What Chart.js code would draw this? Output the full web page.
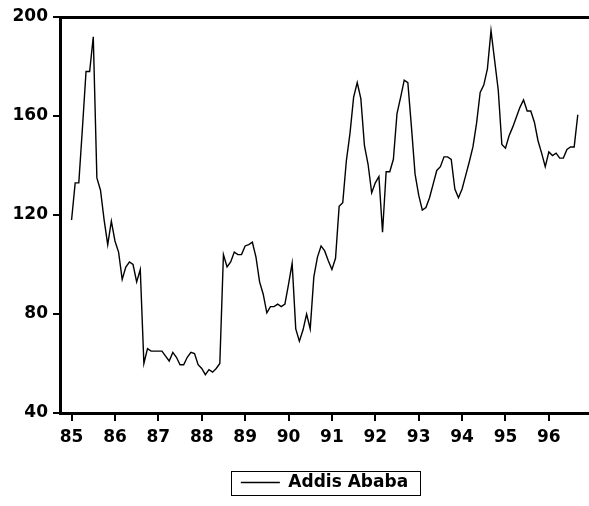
<!DOCTYPE html>
<html>
<head>
<meta charset="utf-8">
<script src="https://cdn.jsdelivr.net/npm/chart.js@4/dist/chart.umd.min.js"></script>
<style>
  html, body { margin: 0; padding: 0; background: #fff; }
  #wrap { width: 589px; height: 506px; }
</style>
</head>
<body>
<div id="wrap"><canvas id="chart" width="589" height="506"></canvas></div>
<script>
// monthly series, 1985M01 .. 1996M09
const seriesName = "Addis Ababa";
const yearLabels = ["85", "86", "87", "88", "89", "90", "91", "92", "93", "94", "95", "96"];
const prices = [
  118, 133, 133, 155, 178, 178, 192, 135, 130, 118, 108, 117.5,
  109.5, 105, 94, 99, 101, 100, 93, 98, 60, 66, 65, 65,
  65, 65, 63, 61, 64.5, 62.5, 59.5, 59.5, 62.5, 64.5, 64, 59.5,
  58, 55.5, 57.5, 56.5, 58, 60, 104, 99, 101, 105, 104, 104,
  107.5, 108, 109, 103, 93, 88, 80.5, 83, 83, 84, 83, 84,
  92, 100.5, 74, 69, 73.5, 80, 74, 95, 103, 107.5, 105.5, 101.5,
  98, 102.5, 123.5, 125, 142, 153, 167.5, 173.5, 167, 148, 140.5, 129,
  133, 135.5, 113, 137.5, 137.5, 142.5, 161, 167.5, 174.5, 173.5, 155.5, 136.5,
  128, 122, 123, 127, 132.5, 138, 139.5, 143.5, 143.5, 142.5, 130.5, 127,
  130.5, 136, 141.5, 147.5, 157, 169.5, 172.5, 179, 194.5, 182.5, 170.5, 148.5,
  147, 152, 155.5, 159.5, 163.5, 166.5, 162, 162, 157.5, 150, 145, 139.5,
  145.5, 144, 145, 143, 143, 146.5, 147.5, 147.5, 160.5
];
const yMin = 40, yMax = 200, yStep = 40;

const yearTicks = yearLabels.map((_, i) => i * 12);
const points = prices.map((v, i) => ({ x: i, y: v }));
const xMin = -3.2, xMax = 143.1;

const FONT = { family: "'DejaVu Sans', sans-serif", size: 17, weight: "bold" };

// EViews style frame round the legend
const legendFrame = {
  id: "legendFrame",
  afterDraw(chart) {
    const boxes = chart.legend && chart.legend.legendHitBoxes;
    if (!boxes || !boxes.length) return;
    const b = boxes[0];
    const ctx = chart.ctx;
    const cy = b.top + b.height / 2;
    ctx.save();
    ctx.strokeStyle = "#000";
    ctx.lineWidth = 1;
    ctx.strokeRect(Math.round(b.left - 10) + 0.5, Math.round(cy - 12) + 0.5, Math.round(b.width + 22), 24);
    ctx.restore();
  }
};

const ctx = document.getElementById("chart").getContext("2d");
new Chart(ctx, {
  type: "line",
  data: {
    datasets: [{
      label: seriesName,
      data: points,
      borderColor: "#000",
      backgroundColor: "#000",
      borderWidth: 1.4,
      pointRadius: 0,
      pointStyle: "line",
      tension: 0,
      fill: false
    }]
  },
  options: {
    responsive: false,
    animation: false,
    layout: { padding: { top: 17, left: 0, right: 0, bottom: 5 } },
    plugins: {
      tooltip: { enabled: false },
      legend: {
        position: "bottom",
        fullSize: false,
        labels: {
          color: "#000",
          font: FONT,
          padding: 5,
          usePointStyle: true,
          pointStyle: "line",
          pointStyleWidth: 39
        }
      }
    },
    scales: {
      x: {
        type: "linear",
        min: xMin,
        max: xMax,
        afterBuildTicks: (scale) => { scale.ticks = yearTicks.map(v => ({ value: v })); },
        afterFit: (scale) => { scale.height = 56; },
        ticks: {
          color: "#000",
          font: FONT,
          padding: 6,
          autoSkip: false,
          maxRotation: 0,
          callback: (v, i) => yearLabels[i]
        },
        grid: { drawOnChartArea: false, tickLength: 8, color: "#000", lineWidth: 2 },
        border: { color: "#000", width: 3 }
      },
      xTop: {
        type: "linear",
        position: "top",
        min: xMin,
        max: xMax,
        ticks: { display: false },
        grid: { display: false, drawTicks: false },
        border: { display: true, color: "#000", width: 3 }
      },
      y: {
        min: yMin,
        max: yMax,
        afterFit: (scale) => { scale.width = 60; },
        ticks: { stepSize: yStep, color: "#000", font: FONT, padding: 5 },
        grid: { drawOnChartArea: false, tickLength: 7, color: "#000", lineWidth: 2 },
        border: { color: "#000", width: 3 }
      }
    }
  },
  plugins: [legendFrame]
});
</script>
</body>
</html>
